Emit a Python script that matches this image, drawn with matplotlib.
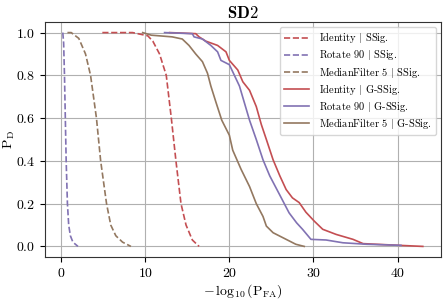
import matplotlib
matplotlib.use("Agg")
import matplotlib.pyplot as plt

plt.rcParams["font.family"] = "serif"
plt.rcParams["font.serif"] = ["cmr10"]
plt.rcParams["mathtext.fontset"] = "cm"
plt.rcParams["axes.formatter.use_mathtext"] = True

RED = "#C44E52"
PURPLE = "#8172B3"
BROWN = "#937860"

# SSig. curves (dashed)
id_ssig_x = [4.9, 8.5, 9.7, 10.3, 10.9, 11.7, 12.5, 13.1, 13.65, 14.25, 14.85, 15.6, 16.4]
id_ssig_y = [1.0, 1.0, 0.99, 0.985, 0.96, 0.9, 0.8, 0.6, 0.4, 0.2, 0.1, 0.03, 0.0]

rot_ssig_x = [0.2, 0.3, 0.4, 0.5, 0.6, 0.75, 0.9, 1.1, 1.4, 2.0]
rot_ssig_y = [1.0, 0.95, 0.8, 0.6, 0.4, 0.2, 0.1, 0.05, 0.02, 0.0]

med_ssig_x = [0.75, 1.2, 2.1, 2.9, 3.5, 4.2, 4.7, 5.4, 5.9, 6.5, 7.3, 8.3]
med_ssig_y = [1.0, 1.0, 0.973, 0.9, 0.8, 0.6, 0.4, 0.2, 0.1, 0.05, 0.02, 0.0]

# G-SSig. curves (solid)
id_gssig_x = [12.9, 16.0, 16.4, 17.2, 18.6, 19.6, 20.0, 21.0, 21.6, 22.4, 23.2, 23.8,
              24.4, 25.2, 26.0, 26.75, 27.5, 28.3, 29.1, 30.1, 31.1, 32.7, 34.7,
              35.9, 40.2, 43.0]
id_gssig_y = [1.0, 0.995, 0.98, 0.96, 0.94, 0.91, 0.87, 0.825, 0.77, 0.73, 0.654, 0.57,
              0.5, 0.405, 0.33, 0.266, 0.227, 0.205, 0.16, 0.118, 0.08, 0.056, 0.033,
              0.013, 0.005, 0.0]

rot_gssig_x = [12.3, 15.6, 15.8, 16.8, 17.8, 18.6, 19.0, 20.0, 20.6, 21.2, 21.8, 22.4,
               23.2, 24.0, 24.8, 26.0, 27.1, 28.0, 28.7, 29.7, 31.5, 33.5, 36.3, 40.4]
rot_gssig_y = [1.0, 0.995, 0.98, 0.97, 0.94, 0.91, 0.87, 0.85, 0.8, 0.75, 0.67, 0.59,
               0.5, 0.405, 0.33, 0.24, 0.157, 0.11, 0.08, 0.033, 0.03, 0.017, 0.01, 0.005]

med_gssig_x = [9.7, 10.7, 13.2, 14.4, 15.2, 16.0, 16.8, 17.4, 17.8, 18.4, 19.1, 20.0,
               20.4, 21.4, 22.4, 23.2, 24.0, 24.4, 25.2, 26.75, 27.9, 28.9]
med_gssig_y = [1.0, 0.988, 0.98, 0.97, 0.94, 0.9, 0.864, 0.81, 0.75, 0.675, 0.59, 0.52,
               0.45, 0.36, 0.28, 0.2, 0.14, 0.095, 0.064, 0.033, 0.01, 0.0]

fig = plt.figure(figsize=(4.48, 3.0), dpi=100)
ax = fig.add_axes([0.1, 0.143, 0.884, 0.784])

lw = 1.2
ax.plot(id_ssig_x, id_ssig_y, "--", color=RED, lw=lw, label=r"Identity $|$ SSig.")
ax.plot(rot_ssig_x, rot_ssig_y, "--", color=PURPLE, lw=lw, label=r"Rotate 90 $|$ SSig.")
ax.plot(med_ssig_x, med_ssig_y, "--", color=BROWN, lw=lw, label=r"MedianFilter 5 $|$ SSig.")
ax.plot(id_gssig_x, id_gssig_y, "-", color=RED, lw=lw, label=r"Identity $|$ G-SSig.")
ax.plot(rot_gssig_x, rot_gssig_y, "-", color=PURPLE, lw=lw, label=r"Rotate 90 $|$ G-SSig.")
ax.plot(med_gssig_x, med_gssig_y, "-", color=BROWN, lw=lw,
        label=r"MedianFilter 5 $|$ G-SSig.")

ax.set_xticks([0, 10, 20, 30, 40])
ax.set_yticks([0.0, 0.2, 0.4, 0.6, 0.8, 1.0])
ax.tick_params(labelsize=10)
ax.grid(True, color="#b0b0b0", lw=0.8)
ax.set_axisbelow(True)
for s in ax.spines.values():
    s.set_color("#333333")

ax.set_title(r"$\mathbf{SD2}$", fontsize=12, pad=3)
ax.set_xlabel(r"$-\,\log_{10}(\mathrm{P_{FA}})$", fontsize=10, labelpad=2)
ax.set_ylabel(r"$\mathrm{P_D}$", fontsize=10)
ax.yaxis.set_label_coords(-0.07, 0.5)
ax.legend(loc="upper right", fontsize=7.5, handlelength=2.4, labelspacing=0.3,
          borderpad=0.4, handletextpad=0.9, framealpha=0.8)

fig.savefig("out.png", dpi=100)
